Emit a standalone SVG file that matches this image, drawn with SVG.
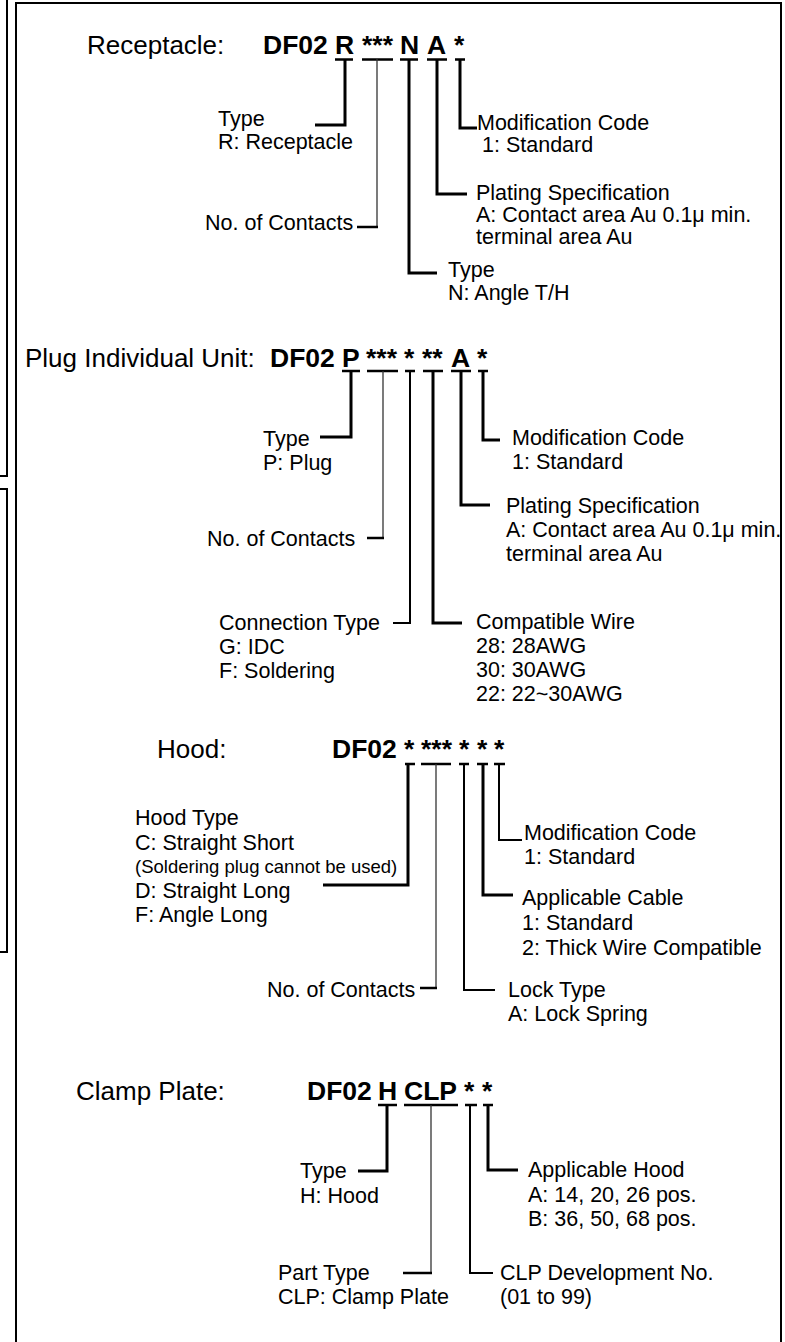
<svg xmlns="http://www.w3.org/2000/svg" width="785" height="1342" viewBox="0 0 785 1342">
<style>
text{font-family:"Liberation Sans",Arial,sans-serif;fill:#000}
.t{font-size:26px}
.c{font-size:26.5px;font-weight:bold}
.l{font-size:21.5px}
.s{font-size:18.5px}
.frame{fill:none;stroke:#000;stroke-width:2}
.ul{stroke:#000;stroke-width:2.5;fill:none}
.k{stroke:#000;stroke-width:3;fill:none}
.m{stroke:#000;stroke-width:2;fill:none}
.n{stroke:#333;stroke-width:1.3;fill:none}
</style>
<rect width="785" height="1342" fill="#fff"/>
<g id="frames">
<rect class="frame" x="16" y="3" width="765" height="1360"/>
<path class="frame" d="M-2,-2 H7 V476 H-2"/>
<path class="frame" d="M-2,489 H7 V952 H-2"/>
</g>

<g id="connectors">
<!-- Receptacle -->
<path class="ul" d="M335,59.5H353M362,59.5H393M400,59.5H418M427,59.5H447M455,59.5H465"/>
<path class="k" d="M345,59 V125 H315"/>
<path class="n" d="M377,59 V227"/>
<path class="ul" d="M357,227 H378"/>
<path class="k" d="M409,59 V273 H437"/>
<path class="k" d="M437,59 V194 H467"/>
<path class="k" d="M460,59 V128 H477"/>
<!-- Plug -->
<path class="ul" d="M342,371H360M367,371H398M405,371H415M423,371H443M451,371H471M478,371H488"/>
<path class="k" d="M351,371 V437 H320"/>
<path class="n" d="M383,371 V538"/>
<path class="ul" d="M367,538 H384"/>
<path class="m" d="M410,371 V623 H393"/>
<path class="k" d="M433,371 V623 H462"/>
<path class="k" d="M461,371 V505 H490"/>
<path class="k" d="M483,371 V440 H500"/>
<!-- Hood -->
<path class="ul" d="M405,764H415M421,764H451M459,764H469M477,764H488M494,764H505"/>
<path class="k" d="M408,764 V885 H323"/>
<path class="n" d="M436,764 V988"/>
<path class="ul" d="M420,988 H437"/>
<path class="m" d="M464,764 V990 H495"/>
<path class="k" d="M483,764 V895 H513"/>
<path class="m" d="M499,764 V840 H522"/>
<!-- Clamp plate -->
<path class="ul" d="M378,1105H397M404,1105H458M465,1105H477M483,1105H493"/>
<path class="k" d="M387,1105 V1171 H358"/>
<path class="n" d="M431,1105 V1273"/>
<path class="ul" d="M403,1273 H432"/>
<path class="m" d="M470,1105 V1273 H493"/>
<path class="k" d="M488,1105 V1170 H518"/>
</g>

<g id="receptacle">
<text class="t" x="87" y="54">Receptacle:</text>
<text class="c" y="54"><tspan x="263">DF02</tspan><tspan x="335">R</tspan><tspan x="362">***</tspan><tspan x="400">N</tspan><tspan x="427">A</tspan><tspan x="454">*</tspan></text>
</g>
<g id="rec-type"><text class="l" x="218" y="126">Type</text><text class="l" x="218" y="149">R: Receptacle</text></g>
<g id="rec-contacts"><text class="l" x="205" y="230">No. of Contacts</text></g>
<g id="rec-type2"><text class="l" x="448" y="277">Type</text><text class="l" x="448" y="300">N: Angle T/H</text></g>
<g id="rec-plating"><text class="l" x="476" y="200">Plating Specification</text><text class="l" x="476" y="222">A: Contact area Au 0.1μ min.</text><text class="l" x="476" y="244">terminal area Au</text></g>
<g id="rec-mod"><text class="l" x="477" y="130">Modification Code</text><text class="l" x="482" y="152">1: Standard</text></g>

<g id="plug">
<text class="t" x="25" y="367">Plug Individual Unit:</text>
<text class="c" y="367"><tspan x="270">DF02</tspan><tspan x="342">P</tspan><tspan x="366">***</tspan><tspan x="404">*</tspan><tspan x="422">**</tspan><tspan x="451">A</tspan><tspan x="477">*</tspan></text>
</g>
<g id="plug-type"><text class="l" x="263" y="446">Type</text><text class="l" x="263" y="470">P: Plug</text></g>
<g id="plug-contacts"><text class="l" x="207" y="546">No. of Contacts</text></g>
<g id="plug-conn"><text class="l" x="219" y="630">Connection Type</text><text class="l" x="219" y="654">G: IDC</text><text class="l" x="219" y="678">F: Soldering</text></g>
<g id="plug-wire"><text class="l" x="476" y="629">Compatible Wire</text><text class="l" x="476" y="653">28: 28AWG</text><text class="l" x="476" y="677">30: 30AWG</text><text class="l" x="476" y="701">22: 22~30AWG</text></g>
<g id="plug-plating"><text class="l" x="506" y="513">Plating Specification</text><text class="l" x="506" y="537">A: Contact area Au 0.1μ min.</text><text class="l" x="506" y="561">terminal area Au</text></g>
<g id="plug-mod"><text class="l" x="512" y="445">Modification Code</text><text class="l" x="512" y="469">1: Standard</text></g>

<g id="hood">
<text class="t" x="157" y="758">Hood:</text>
<text class="c" y="758"><tspan x="332">DF02</tspan><tspan x="404">*</tspan><tspan x="421">***</tspan><tspan x="459">*</tspan><tspan x="477">*</tspan><tspan x="494">*</tspan></text>
</g>
<g id="hood-type"><text class="l" x="135" y="825">Hood Type</text><text class="l" x="135" y="850">C: Straight Short</text><text class="s" x="135" y="873">(Soldering plug cannot be used)</text><text class="l" x="135" y="898">D: Straight Long</text><text class="l" x="135" y="922">F: Angle Long</text></g>
<g id="hood-contacts"><text class="l" x="267" y="997">No. of Contacts</text></g>
<g id="hood-lock"><text class="l" x="508" y="997">Lock Type</text><text class="l" x="508" y="1021">A: Lock Spring</text></g>
<g id="hood-cable"><text class="l" x="522" y="905">Applicable Cable</text><text class="l" x="522" y="930">1: Standard</text><text class="l" x="522" y="955">2: Thick Wire Compatible</text></g>
<g id="hood-mod"><text class="l" x="524" y="840">Modification Code</text><text class="l" x="524" y="864">1: Standard</text></g>

<g id="clamp">
<text class="t" x="76" y="1100">Clamp Plate:</text>
<text class="c" y="1100"><tspan x="307">DF02</tspan><tspan x="378">H</tspan><tspan x="404">CLP</tspan><tspan x="464">*</tspan><tspan x="482">*</tspan></text>
</g>
<g id="clamp-type"><text class="l" x="300" y="1178">Type</text><text class="l" x="300" y="1203">H: Hood</text></g>
<g id="clamp-part"><text class="l" x="278" y="1280">Part Type</text><text class="l" x="278" y="1304">CLP: Clamp Plate</text></g>
<g id="clamp-dev"><text class="l" x="500" y="1280">CLP Development No.</text><text class="l" x="500" y="1304">(01 to 99)</text></g>
<g id="clamp-hood"><text class="l" x="528" y="1177">Applicable Hood</text><text class="l" x="528" y="1202">A: 14, 20, 26 pos.</text><text class="l" x="528" y="1226">B: 36, 50, 68 pos.</text></g>
</svg>
